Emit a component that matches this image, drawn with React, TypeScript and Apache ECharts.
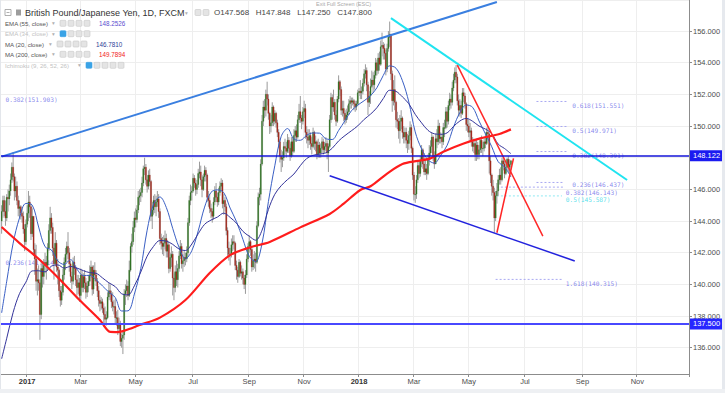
import React, { useEffect, useRef } from "react";
import * as echarts from "echarts";

// ---------- categories ----------
const START_DATE = [2016, 11, 5]; // 5 Dec 2016 (UTC, month 0-based)
const N_CATS = 539;
const MONTH_NAMES = ["Jan", "Feb", "Mar", "Apr", "May", "Jun", "Jul", "Aug", "Sep", "Oct", "Nov", "Dec"];

// ---------- daily candles: [high, low, close]; open = previous close ----------
const OPEN_FIRST = 144.0;
const DEC16 = [[145.0,143.2,144.6],[145.6,144.2,145.3],[145.6,144.3,144.6],[145.3,143.7,144.2],[145.7,144.0,145.5],[146.0,144.6,145.4],[146.3,145.0,145.9],[147.0,145.6,146.6],[147.7,146.4,147.4],[148.35,146.5,146.8],[147.0,145.3,145.9],[146.8,145.5,146.2],[146.5,145.0,145.3],[145.6,144.3,144.8],[145.3,144.2,144.9],[145.0,144.1,144.5],[144.9,143.9,144.3],[144.6,143.2,143.5],[143.8,142.1,142.7],[144.1,142.5,143.8]];
const JAN17 = [[145.0,143.6,144.5],[145.9,144.0,145.2],[145.6,144.2,144.9],[145.1,142.8,143.2],[144.8,143.0,144.3],[144.2,141.8,142.2],[142.6,140.6,141.6],[142.5,139.6,140.2],[141.0,139.3,140.3],[141.2,139.6,140.1],[140.3,136.5,138.1],[141.5,137.8,141.0],[141.4,139.8,140.5],[141.6,140.0,141.2],[142.0,140.7,141.4],[141.8,140.3,141.2],[142.6,140.9,142.3],[143.8,142.1,143.4],[144.9,143.2,144.2],[144.5,143.2,143.6],[143.9,141.8,142.3],[142.6,140.3,141.3]];
const FEB17 = [[143.3,141.2,142.6],[142.8,140.8,141.1],[141.6,140.0,140.9],[141.0,139.2,139.6],[139.9,138.6,139.0],[139.9,138.7,139.5],[141.0,139.3,140.6],[141.7,140.3,141.4],[142.3,140.9,141.9],[142.7,141.4,142.4],[143.3,141.6,142.0],[142.3,140.8,141.3],[141.5,140.1,140.5],[140.8,139.7,140.2],[141.7,140.0,141.4],[141.8,140.6,141.0],[141.2,139.9,140.3],[140.6,139.3,139.8],[140.6,139.4,140.1],[140.4,138.9,139.3]];
const MAR17 = [[141.0,139.0,140.6],[140.9,139.5,139.8],[140.7,139.5,140.5],[140.9,139.7,140.1],[140.4,139.1,139.5],[140.2,139.2,139.9],[140.6,139.5,140.2],[141.2,139.9,140.6],[141.5,140.4,141.1],[141.2,139.3,139.7],[141.2,139.4,140.9],[141.4,140.2,140.6],[140.9,139.9,140.2],[140.4,139.2,139.6],[139.9,138.6,139.0],[139.3,138.3,138.8],[139.2,138.4,138.9],[139.1,138.2,138.5],[138.8,137.3,138.1],[138.6,137.5,137.8],[138.3,137.4,137.9],[139.5,137.8,139.2],[140.1,139.0,139.6]];
const APR17 = [[140.0,139.0,139.4],[139.6,138.5,138.9],[139.5,138.3,138.6],[139.0,138.1,138.6],[139.1,137.5,137.9],[138.3,137.4,137.9],[138.4,136.8,137.2],[137.9,136.9,137.5],[137.7,136.1,136.4],[136.9,136.0,136.6],[137.0,135.6,136.8],[139.7,136.5,139.4],[140.0,138.7,139.6],[140.3,139.2,139.9],[140.2,139.0,139.3],[141.5,139.2,140.9],[142.6,140.8,142.4],[143.2,142.0,142.7],[144.0,142.5,143.6],[144.6,143.3,144.2]];
const MAY17 = [[144.8,143.6,144.1],[145.0,143.9,144.7],[145.9,144.5,145.5],[146.0,145.0,145.6],[146.1,145.2,145.8],[146.8,145.5,146.4],[147.5,146.2,147.3],[148.0,146.9,147.4],[147.6,146.3,146.6],[146.9,145.8,146.2],[147.2,146.0,146.9],[147.3,146.2,146.5],[146.6,144.0,144.3],[145.2,143.5,144.7],[145.6,144.4,145.3],[145.7,144.5,144.9],[145.6,144.3,145.2],[145.9,144.9,145.4],[145.7,144.2,144.6],[144.8,142.5,142.9],[143.2,142.2,142.6],[143.0,141.9,142.4],[143.1,141.8,142.6]];
const JUN17 = [[143.4,142.2,142.9],[143.2,141.7,142.1],[142.8,141.7,142.5],[142.7,140.7,141.0],[142.0,140.8,141.7],[142.4,141.1,141.9],[142.1,139.3,140.4],[140.7,139.0,139.8],[141.2,139.5,140.8],[141.5,139.9,140.3],[141.3,139.8,141.0],[142.1,140.8,141.8],[142.8,141.6,142.4],[142.6,141.0,141.3],[141.9,140.8,141.5],[142.1,141.1,141.7],[142.0,141.2,141.6],[142.4,141.4,142.0],[144.2,141.8,143.9],[145.6,143.7,145.3],[146.3,145.0,145.8],[146.2,145.3,145.9]];
const JUL17 = [[147.0,145.8,146.7],[146.9,146.1,146.4],[146.7,145.6,146.0],[146.6,145.7,146.3],[147.3,146.1,147.0],[147.75,146.7,147.1],[147.5,146.2,146.6],[146.9,145.5,146.0],[147.0,145.9,146.8],[147.5,146.5,147.2],[147.4,146.5,146.9],[147.0,145.2,145.5],[145.9,144.9,145.3],[145.7,144.5,144.8],[145.1,144.2,144.6],[144.8,143.9,144.3],[145.5,144.1,145.2],[146.2,145.0,145.9],[146.4,145.2,145.5],[145.8,144.9,145.2],[146.1,145.0,145.8]];
const AUG17 = [[146.5,145.6,146.2],[146.7,145.9,146.4],[146.6,144.8,145.1],[145.7,144.4,145.3],[145.5,144.6,144.9],[145.1,143.1,143.4],[143.6,141.8,142.3],[142.7,141.5,141.9],[142.3,141.2,141.9],[142.9,141.7,142.5],[143.1,142.1,142.7],[143.1,142.2,142.6],[142.7,140.9,141.2],[141.5,140.3,140.9],[141.1,140.1,140.5],[141.6,140.4,141.4],[141.5,140.5,140.7],[141.2,140.3,140.8],[141.0,140.0,140.4],[140.6,139.7,140.0],[140.9,139.4,140.6],[141.9,140.4,141.6],[142.6,141.4,142.4]];
const SEP17 = [[143.1,142.0,142.7],[142.8,141.8,142.2],[142.4,140.8,141.1],[141.9,140.9,141.5],[142.1,141.0,141.6],[142.0,140.8,141.4],[144.0,141.3,143.7],[145.8,143.6,145.5],[146.1,145.0,145.7],[147.9,145.3,147.6],[150.7,147.5,150.3],[151.6,150.0,151.2],[151.7,150.5,151.0],[152.3,150.6,152.0],[152.8,151.3,151.7],[152.0,150.4,150.8],[150.9,149.5,150.0],[150.7,149.6,150.2],[151.5,150.0,151.2],[151.3,150.0,150.3],[151.0,150.1,150.8]];
const OCT17 = [[150.9,149.9,150.2],[150.4,149.3,149.6],[149.8,148.6,149.0],[149.2,147.7,148.1],[148.5,147.1,147.9],[148.4,147.4,148.0],[149.0,147.8,148.7],[149.2,148.2,148.6],[149.0,148.0,148.4],[149.5,148.3,149.1],[149.3,148.3,148.6],[148.9,147.8,148.1],[149.3,148.0,149.0],[149.3,148.1,148.4],[149.8,148.3,149.4],[150.0,149.0,149.7],[150.1,149.0,149.3],[150.7,149.2,150.4],[151.4,150.2,150.9],[151.9,150.2,150.5],[150.7,149.8,150.3],[151.2,150.1,150.9]];
const NOV17 = [[151.6,150.5,151.1],[151.4,149.2,149.6],[150.0,148.9,149.3],[149.8,148.6,149.1],[149.8,148.8,149.4],[149.6,148.5,148.9],[149.3,148.2,148.7],[149.9,148.6,149.6],[149.7,148.5,148.9],[149.4,148.4,149.0],[149.1,147.9,148.2],[149.2,148.0,148.8],[149.0,148.0,148.3],[148.9,148.0,148.6],[149.3,148.3,149.0],[149.2,148.2,148.5],[149.0,148.3,148.7],[149.3,148.4,148.9],[149.1,147.9,148.3],[148.9,147.1,148.7],[150.7,148.6,150.4],[152.1,150.2,151.8]];
const DEC17 = [[152.0,150.4,151.2],[152.3,150.9,151.5],[151.7,150.4,150.7],[151.0,150.0,150.3],[151.9,150.2,151.7],[153.2,151.5,152.8],[152.9,151.9,152.3],[152.5,150.7,151.0],[151.6,150.6,151.1],[151.6,150.3,150.8],[151.0,150.1,150.4],[151.1,150.2,150.7],[151.3,150.4,150.9],[151.7,150.7,151.4],[151.9,151.1,151.6],[151.8,151.1,151.5],[151.8,151.3,151.6],[151.7,151.0,151.4],[151.6,150.9,151.2],[151.6,151.0,151.4],[152.3,151.3,152.1]];
const JAN18 = [[152.4,151.9,152.2],[152.9,151.7,152.1],[152.5,151.7,152.2],[153.0,152.0,152.7],[153.6,152.5,153.3],[153.9,153.0,153.5],[153.7,152.2,152.6],[152.8,150.7,151.5],[152.2,151.2,151.9],[153.0,151.4,152.5],[153.5,152.4,152.9],[153.4,152.1,152.6],[153.5,152.3,153.2],[154.3,153.0,154.0],[154.2,153.2,153.5],[154.6,153.3,154.3],[154.7,153.5,153.9],[155.4,153.8,155.0],[155.9,154.4,155.1],[155.3,154.2,154.9],[155.2,154.2,154.6],[154.8,153.2,153.6],[155.2,153.4,154.9]];
const FEB18 = [[156.0,154.7,155.6],[156.6,155.0,155.8],[155.8,152.9,153.3],[153.5,150.9,151.6],[152.9,151.3,152.3],[153.2,151.0,151.5],[151.6,149.9,150.4],[150.9,149.8,150.3],[150.5,149.2,149.7],[150.7,148.9,150.3],[151.0,149.8,150.5],[150.6,149.2,149.6],[150.0,148.9,149.3],[149.9,148.9,149.6],[149.9,148.6,149.1],[149.5,148.3,148.9],[149.7,148.5,149.4],[150.3,149.1,149.9],[150.1,148.3,148.6],[148.7,146.6,146.9]];
const MAR18 = [[147.1,145.3,145.7],[146.2,145.15,145.7],[146.9,145.4,146.6],[147.8,146.4,147.5],[147.8,146.7,147.0],[148.1,146.8,147.8],[148.8,147.4,148.5],[148.6,147.3,147.6],[148.3,146.9,147.1],[147.9,146.9,147.3],[147.6,146.6,147.0],[148.2,146.9,147.9],[148.8,147.5,148.3],[149.1,148.1,148.7],[149.6,148.3,149.3],[149.4,147.8,148.1],[148.4,147.3,147.6],[149.5,147.6,149.2],[149.8,148.6,149.0],[150.4,148.8,150.0],[150.2,148.9,149.2],[149.6,148.9,149.3]];
const APR18 = [[149.5,148.6,149.0],[150.2,148.8,149.9],[150.4,149.3,149.9],[151.2,149.8,150.9],[151.2,149.9,150.3],[151.6,150.1,151.3],[152.1,151.0,151.7],[152.0,151.1,151.5],[152.8,151.3,152.4],[153.3,152.2,152.9],[153.7,152.7,153.4],[153.85,152.7,153.1],[153.3,151.3,151.6],[152.0,150.6,151.0],[151.7,150.6,151.3],[151.6,150.5,150.8],[152.4,150.7,152.1],[152.4,151.5,151.9],[152.1,151.1,151.4],[151.5,149.7,150.1],[150.5,149.6,150.0]];
const MAY18 = [[150.4,149.3,149.6],[150.2,149.0,149.7],[149.9,148.7,149.0],[149.3,148.4,148.7],[149.2,148.3,148.9],[149.1,147.8,148.2],[149.2,147.8,148.8],[149.0,147.9,148.2],[148.8,147.9,148.5],[149.3,148.3,149.1],[149.4,148.3,148.6],[149.0,148.1,148.6],[149.3,148.4,149.0],[149.6,148.6,148.9],[149.9,148.8,149.6],[150.0,149.1,149.5],[149.6,147.0,147.8],[148.1,146.4,146.9],[147.0,145.6,146.2],[146.6,145.3,145.8],[146.1,143.26,144.2],[145.9,144.0,145.6],[146.4,145.1,145.9]];
const JUN18 = [[146.9,145.6,146.6],[147.3,146.3,146.9],[147.4,146.3,146.6],[148.0,146.5,147.8],[148.1,147.2,147.6],[147.8,146.7,147.0],[147.7,146.9,147.4],[148.0,147.2,147.9],[148.1,147.1,147.4],[147.9,146.8,147.568],[147.848,147.25,147.8]];
const MONTHS = [DEC16, JAN17, FEB17, MAR17, APR17, MAY17, JUN17, JUL17, AUG17, SEP17, OCT17, NOV17, DEC17, JAN18, FEB18, MAR18, APR18, MAY18, JUN18];

// ---------- indicator readings: [bar index, value] ----------
const MA20_PTS = [[0,138.2],[4,140.2],[9,142.6],[14,144.2],[19,145.11],[24,145.0],[29,143.62],[34,142.38],[39,142.17],[44,141.48],[49,141.26],[54,141.56],[59,140.96],[64,140.56],[69,140.57],[74,140.29],[79,139.9],[84,139.51],[89,139.17],[94,138.32],[99,138.33],[104,139.39],[109,141.0],[114,143.42],[119,145.06],[124,145.52],[129,144.86],[134,143.54],[139,142.34],[144,141.62],[149,142.13],[154,143.38],[159,144.88],[164,145.81],[169,145.97],[174,145.79],[179,144.82],[184,143.96],[189,142.85],[194,141.77],[199,141.44],[204,142.59],[209,145.23],[214,147.49],[219,149.34],[224,149.84],[229,149.18],[234,149.1],[239,149.42],[244,149.56],[249,149.55],[254,149.19],[259,149.15],[264,149.72],[269,150.34],[274,150.96],[279,151.32],[284,151.6],[289,151.92],[294,152.42],[299,153.2],[304,153.8],[309,153.65],[314,152.86],[319,151.52],[324,149.63],[329,148.55],[334,147.87],[339,147.66],[344,148.15],[349,148.78],[354,149.93],[359,150.85],[364,151.33],[369,151.18],[374,150.32],[379,149.51],[384,148.69],[389,147.75],[394,147.41],[399,146.781]];
const EMA55_PTS = [[0,135.3],[4,136.6],[9,138.23],[14,139.42],[19,140.14],[24,140.85],[29,140.86],[34,140.79],[39,141.15],[44,141.23],[49,141.03],[54,141.13],[59,141.03],[64,140.87],[69,140.74],[74,140.7],[79,140.41],[84,140.1],[89,139.86],[94,139.41],[99,139.34],[104,139.91],[109,140.78],[114,141.78],[119,142.4],[124,142.77],[129,142.73],[134,142.53],[139,142.23],[144,142.14],[149,142.55],[154,143.2],[159,143.79],[164,144.06],[169,144.25],[174,144.5],[179,144.23],[184,143.86],[189,143.35],[194,143.04],[199,142.79],[204,143.42],[209,144.73],[214,145.69],[219,146.23],[224,146.62],[229,146.97],[234,147.5],[239,147.95],[244,148.15],[249,148.23],[254,148.31],[259,148.6],[264,149.06],[269,149.4],[274,149.7],[279,150.01],[284,150.42],[289,150.75],[294,151.16],[299,151.74],[304,152.26],[309,152.19],[314,151.84],[319,151.41],[324,150.74],[329,150.2],[334,149.73],[339,149.51],[344,149.48],[349,149.57],[354,149.97],[359,150.32],[364,150.48],[369,150.3],[374,150.0],[379,149.81],[384,149.51],[389,148.86],[394,148.58],[399,148.2526]];
const MA200_PTS = [[0,143.62],[14,142.61],[30,141.54],[46,140.28],[61,139.01],[77,137.75],[85,137.0],[91,136.99],[97,137.1],[108,137.43],[124,137.9],[144,139.01],[163,140.72],[179,141.85],[195,142.35],[210,142.68],[234,143.6],[257,144.45],[268,145.1],[281,145.96],[289,146.2],[302,147.0],[314,147.6],[326,147.8],[336,147.96],[346,148.38],[362,148.9],[375,149.22],[390,149.5],[399,149.7894]];

// ---------- drawings: [bar index, price] endpoints ----------
const BLUE_RISING = [[0.3,148.07],[388,157.83]];
const CYAN_FALLING = [[305,156.82],[490,146.59]];
const BLUE_LOWER = [[257.3,146.86],[449.2,141.48]];
const RED_FALLING = [[356.5,153.85],[424.1,143.05]];
const RED_RISING = [[387.8,143.26],[401.4,147.96]];
const H_LEVEL_UPPER = 148.122;
const H_LEVEL_LOWER = 137.5;
const LAST_CLOSE = 147.8;

// Fibonacci levels: [from index, to index, price, label index, label, cyan?]
const FIB_LEVELS = [
  [418.6, 443.7, 151.551, 446.9, "0.618(151.551)", 0],
  [418.6, 443.7, 149.971, 446.9, "0.5(149.971)", 0],
  [418.6, 443.7, 148.391, 446.9, "0.382(148.391)", 0],
  [418.6, 439.8, 146.437, 446.9, "0.236(146.437)", 0],
  [388.1, 439.8, 146.143, 442.1, "0.382(146.143)", 0],
  [388.1, 439.0, 145.587, 442.1, "0.5(145.587)", 1],
  [387.3, 439.8, 140.315, 442.1, "1.618(140.315)", 0],
];
const FIB_LEFT = [
  [2.6, 151.903, "0.382(151.903)"],
  [2.6, 141.614, "0.236(141.614)"],
];

const FONT = "Liberation Sans, Arial, sans-serif";
const MONO = "DejaVu Sans Mono, monospace";
// vertical nudges (px) of the crowded fib labels so that they do not collide
const FIB_LABEL_NUDGE = [4, 4, 4, 2.5, 5, 4, 4];

function buildDates(): string[] {
  const out: string[] = [];
  const d = new Date(Date.UTC(START_DATE[0], START_DATE[1], START_DATE[2]));
  while (out.length < N_CATS) {
    const wd = d.getUTCDay();
    if (wd !== 0 && wd !== 6) out.push(d.toISOString().slice(0, 10));
    d.setUTCDate(d.getUTCDate() + 1);
  }
  return out;
}

export default function App() {
  const ref = useRef<HTMLDivElement>(null);
  useEffect(() => {
    if (!ref.current) return;
    const chart = echarts.init(ref.current, null, { renderer: "svg" });
    const dates = buildDates();
    const labelIdx = new Set<number>();
    for (let i = 1; i < dates.length; i++) {
      const m = +dates[i].slice(5, 7);
      if (dates[i].slice(5, 7) !== dates[i - 1].slice(5, 7) && m % 2 === 1) labelIdx.add(i);
    }
    const showAt = (i: number) => labelIdx.has(i);

    const bars: number[][] = ([] as number[][]).concat(...MONTHS);
    let prev = OPEN_FIRST;
    const candleData = bars.map((b, i) => {
      const o = prev;
      prev = b[2];
      return [i, o, b[0], b[1], b[2]];
    });

    const trend = (name: string, pts: number[][], color: string, width: number) => ({
      name, type: "line", data: pts, symbol: "none", silent: true, z: 6,
      lineStyle: { color, width },
    });

    const fibSeries: any[] = FIB_LEVELS.map((f: any, k) => ({
      name: "fib" + k, type: "line", symbol: "none", silent: true, z: 1,
      data: [[f[0], f[2]], [f[1], f[2]]],
      lineStyle: { color: f[5] ? "#8fe9f2" : "#a9a9f2", width: 1, type: [2, 2] },
    }));

    const fibLabelData = [
      ...FIB_LEVELS.map((f: any, k) => ({
        value: [f[3], f[2]],
        label: { formatter: f[4], color: f[5] ? "#2fd8e6" : "#6b6be8", offset: [0, FIB_LABEL_NUDGE[k]] },
      })),
      ...FIB_LEFT.map((f: any) => ({ value: [f[0], f[1]], label: { formatter: f[2], color: "#6b6be8" } })),
    ];

    const tag = (v: number, bg: string, text: string, lineColor: string, lineWidth: number, dy: number) => ({
      yAxis: v,
      lineStyle: { color: lineColor, width: lineWidth, type: "solid", opacity: lineWidth ? 1 : 0 },
      label: {
        show: true, position: "end", formatter: text, distance: 1, offset: [0, dy],
        backgroundColor: bg, color: "#ffffff", padding: [1, 4, 1, 3], fontSize: 7.5, lineHeight: 9, fontFamily: FONT,
      },
    });

    const legendRow = (y: number, name: string, dim: boolean, nameW: number, blueFirst: boolean, nBoxes: number, value?: string, valueColor?: string, valueX?: number) => {
      const els: any[] = [
        { type: "text", x: 5, y, style: { text: name, fill: dim ? "#c2c2c2" : "#555555", fontSize: 6.1, fontFamily: FONT, verticalAlign: "middle" } },
        { type: "text", x: nameW + 5, y, style: { text: "▾", fill: "#b0b0b0", fontSize: 5.5, fontFamily: "DejaVu Sans", verticalAlign: "middle" } },
      ];
      for (let k = 0; k < nBoxes; k++) {
        const isBlue = blueFirst && k === 0;
        els.push({ type: "rect", shape: { x: nameW + 13 + k * 8, y: y - 3, width: 6, height: 6, r: 1 }, style: { fill: isBlue ? "#3aa3e6" : "#e4e4e4", stroke: isBlue ? "#3aa3e6" : "#c8c8c8", lineWidth: 0.6 } });
      }
      if (value) els.push({ type: "text", x: valueX, y, style: { text: value, fill: valueColor, fontSize: 6.3, fontFamily: FONT, verticalAlign: "middle" } });
      return els;
    };

    const graphics: any[] = [
      { type: "rect", shape: { x: 0, y: 0, width: 1, height: 393 }, style: { fill: "#e3e6eb" } },
      { type: "rect", shape: { x: 722, y: 0, width: 3, height: 393 }, style: { fill: "#e6e9ee" } },
      { type: "rect", shape: { x: 0, y: 389, width: 725, height: 4 }, style: { fill: "#eef0f3" } },
      { type: "text", x: 316, y: 4, style: { text: "Exit Full Screen (ESC)", fill: "#a8a8a8", fontSize: 5.5, fontFamily: FONT, verticalAlign: "middle" } },
      { type: "rect", shape: { x: 5, y: 9.5, width: 6, height: 6 }, style: { fill: "#ffffff", stroke: "#9a9a9a", lineWidth: 0.8 } },
      { type: "line", shape: { x1: 6.5, y1: 12.5, x2: 9.5, y2: 12.5 }, style: { stroke: "#9a9a9a", lineWidth: 0.8 } },
      { type: "rect", shape: { x: 16, y: 9.5, width: 5, height: 6 }, style: { fill: "#9c9c9c" } },
      { type: "text", x: 25, y: 12.7, style: { text: "British Pound/Japanese Yen, 1D, FXCM", fill: "#333333", fontSize: 9, fontFamily: FONT, verticalAlign: "middle" } },
      { type: "text", x: 185, y: 12.7, style: { text: "▾", fill: "#b0b0b0", fontSize: 5.5, fontFamily: "DejaVu Sans", verticalAlign: "middle" } },
      { type: "rect", shape: { x: 195, y: 9.5, width: 6, height: 6, r: 1 }, style: { fill: "#e4e4e4", stroke: "#c8c8c8", lineWidth: 0.6 } },
      { type: "rect", shape: { x: 203, y: 9.5, width: 6, height: 6, r: 1 }, style: { fill: "#e4e4e4", stroke: "#c8c8c8", lineWidth: 0.6 } },
      { type: "text", x: 214, y: 12.7, style: { text: "O147.568   H147.848   L147.250   C147.800", fill: "#444444", fontSize: 8, fontFamily: FONT, verticalAlign: "middle" } },
      ...legendRow(23.3, "EMA (55, close)", false, 47, false, 4, "148.2526", "#5a4fcf", 99),
      ...legendRow(33.7, "EMA (34, close)", true, 47, true, 4),
      ...legendRow(44, "MA (20, close)", false, 44, false, 4, "146.7810", "#2d3e96", 96),
      ...legendRow(54.3, "MA (200, close)", false, 47, false, 4, "149.7894", "#f02020", 99),
      ...legendRow(65.3, "Ichimoku (9, 26, 52, 26)", true, 73, true, 5),
    ].map((g) => ({ ...g, z: 50 }));

    chart.setOption({
      animation: false,
      backgroundColor: "#ffffff",
      grid: { left: 1, right: 36, top: 0, bottom: 19, containLabel: false },
      xAxis: {
        type: "category",
        data: dates,
        boundaryGap: true,
        axisLine: { show: true, lineStyle: { color: "#8c8c8c", width: 1 } },
        axisTick: { show: true, interval: (i: number) => showAt(i), length: 3, lineStyle: { color: "#8c8c8c" } },
        axisLabel: {
          interval: (i: number) => showAt(i),
          margin: 3,
          fontSize: 7.5,
          color: "#4d4d4d",
          fontFamily: FONT,
          formatter: (v: string) => {
            const m = +v.slice(5, 7);
            return m === 1 ? "{y|" + v.slice(0, 4) + "}" : MONTH_NAMES[m - 1];
          },
          rich: { y: { fontWeight: "bold", fontSize: 7.5, color: "#333333", fontFamily: FONT } },
        },
        splitLine: { show: true, interval: (i: number) => showAt(i), lineStyle: { color: "#eeeeee", width: 1 } },
      },
      yAxis: {
        type: "value",
        position: "right",
        min: 134.34,
        max: 157.96,
        splitNumber: 12,
        scale: true,
        axisLine: { show: true, lineStyle: { color: "#8c8c8c", width: 1 } },
        axisTick: { show: true, length: 3, lineStyle: { color: "#8c8c8c" } },
        axisLabel: {
          showMinLabel: false, showMaxLabel: false, margin: 4, fontSize: 7.5, color: "#4d4d4d", fontFamily: FONT,
          formatter: (v: number) => (Math.abs(v - 148) < 0.01 ? "" : v.toFixed(3)),
        },
        splitLine: { show: true, lineStyle: { color: "#eeeeee", width: 1 } },
      },
      graphic: graphics,
      series: [
        ...fibSeries,
        {
          name: "fibLabels", type: "scatter", symbolSize: 0, silent: true, z: 1,
          data: fibLabelData,
          label: { show: true, position: "right", distance: 0, offset: [0, 4], fontSize: 6.2, lineHeight: 6, fontFamily: MONO },
        },
        {
          name: "GBPJPY", type: "custom", z: 2, silent: true,
          data: candleData,
          encode: { x: 0, y: [1, 2, 3, 4] },
          renderItem: (params: any, api: any) => {
            const i = api.value(0);
            const o = api.value(1), h = api.value(2), l = api.value(3), c = api.value(4);
            const pH = api.coord([i, h]);
            const pL = api.coord([i, l]);
            const pO = api.coord([i, o]);
            const pC = api.coord([i, c]);
            const w = api.size([1, 0])[0] * 0.9;
            const x = pH[0];
            const top = Math.min(pO[1], pC[1]);
            const bh = Math.max(0.8, Math.abs(pO[1] - pC[1]));
            const up = c >= o;
            return {
              type: "group",
              children: [
                { type: "line", shape: { x1: x, y1: pH[1], x2: x, y2: pL[1] }, style: { stroke: "#9a9a9a", lineWidth: 1 } },
                { type: "rect", shape: { x: x - w / 2, y: top, width: w, height: bh }, style: { fill: up ? "#2d6f20" : "#a8291b", stroke: up ? "#3f7f33" : "#8f2a20", lineWidth: 0.3 } },
              ],
            };
          },
        },
        {
          name: "MA20", type: "line", data: MA20_PTS, symbol: "none", smooth: 0.35, silent: true, z: 3,
          lineStyle: { color: "#3a5fc4", width: 1 },
        },
        {
          name: "EMA55", type: "line", data: EMA55_PTS, symbol: "none", smooth: 0.35, silent: true, z: 3,
          lineStyle: { color: "#33339a", width: 1 },
        },
        {
          name: "MA200", type: "line", data: MA200_PTS, symbol: "none", smooth: 0.3, silent: true, z: 4,
          lineStyle: { color: "#ff1c1c", width: 2.2 },
          markLine: {
            silent: true, symbol: ["none", "none"], z: 7,
            data: [
              tag(H_LEVEL_UPPER, "#1b1bf0", "148.122", "#1414d8", 1.5, 0),
              tag(H_LEVEL_LOWER, "#2626ff", "137.500", "#4848ff", 2, 0),
              tag(LAST_CLOSE, "#2f6f17", "147.800", "#2f6f17", 0, 7),
            ],
          },
        },
        trend("blueRising", BLUE_RISING, "#3a7fe0", 2),
        trend("cyanFalling", CYAN_FALLING, "#20e4f0", 2),
        trend("blueLower", BLUE_LOWER, "#2323dd", 1.5),
        trend("redFalling", RED_FALLING, "#ff2626", 1.5),
        trend("redRising", RED_RISING, "#ff2626", 1.5),
      ],
    });
    return () => chart.dispose();
  }, []);
  return <div ref={ref} style={{ position: "fixed", left: 0, top: 0, width: 725, height: 393 }} />;
}
